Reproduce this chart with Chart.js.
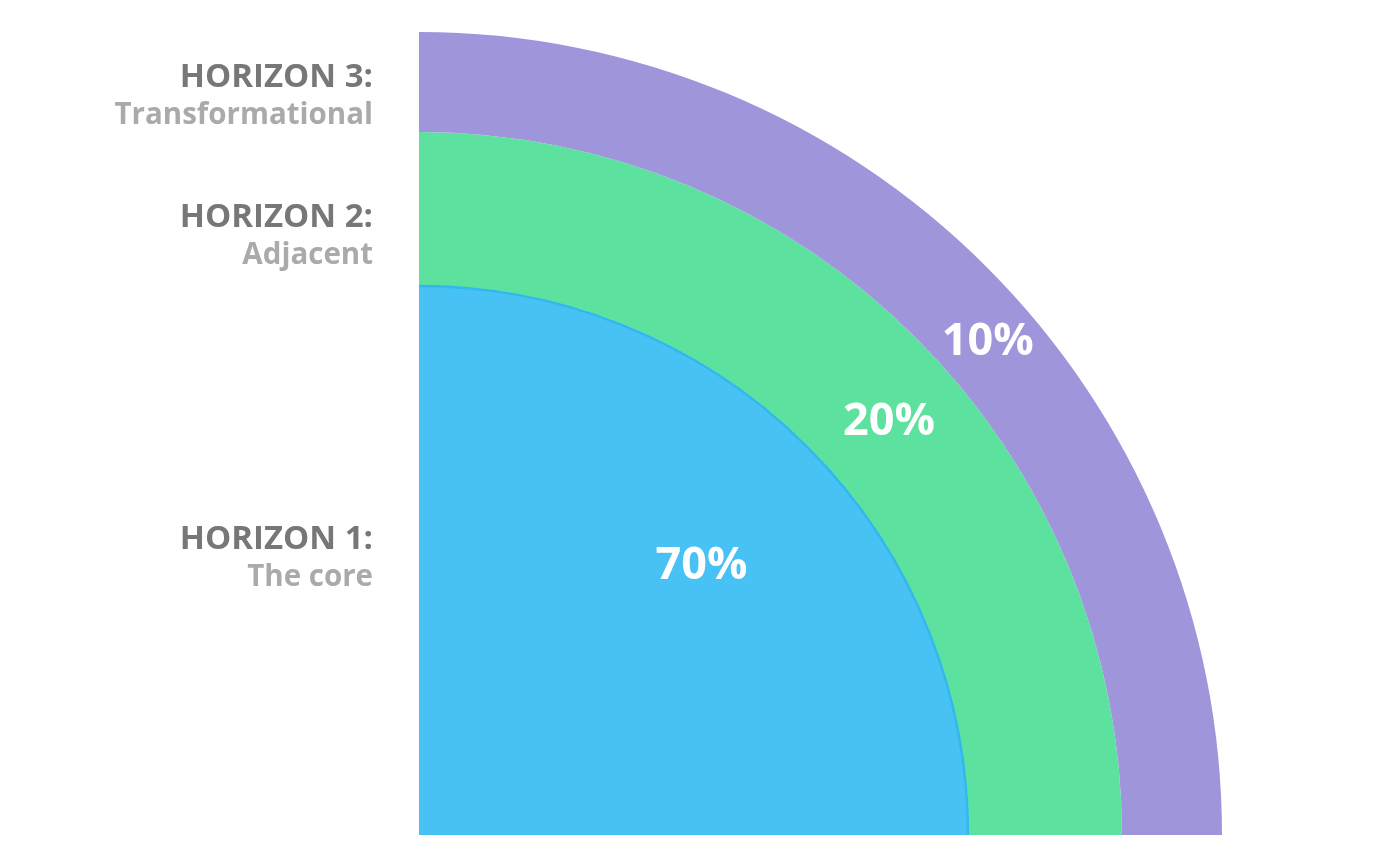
<!DOCTYPE html>
<html>
<head>
<meta charset="utf-8">
<script src="https://cdn.jsdelivr.net/npm/chart.js@4/dist/chart.umd.min.js"></script>
<style>
  html, body { margin: 0; padding: 0; background: #ffffff; }
  #wrap { width: 1400px; height: 866px; position: relative; }
</style>
</head>
<body>
<div id="wrap"><canvas id="c" width="1400" height="866"></canvas></div>
<script>
// ---- data (outermost ring first) ----
const horizons = ['HORIZON 3:', 'HORIZON 2:', 'HORIZON 1:'];
const subtitles = ['Transformational', 'Adjacent', 'The core'];
const shares = [10, 20, 70];            // percent of investment
const ringColors = ['#9e95da', '#5ce29e', '#48c2f5'];
const ringWeights = [100, 153, 550];     // relative ring thickness (style)

// label placement (style): fraction along the arc angle, fraction across ring thickness
const pctAngleFrac = [0.545, 0.54, 0.515];
const pctRadiusFrac = [0.5, 0.5, 0.71];
// left caption vertical centers (title line)
const captionY = [78, 218, 540];

const datasets = shares.map((v, i) => ({
  label: horizons[i],
  data: [v],
  backgroundColor: ringColors[i],
  borderWidth: 0,
  weight: ringWeights[i],
  hoverOffset: 0
}));

const labelPlugin = {
  id: 'horizonLabels',
  afterDatasetsDraw(chart) {
    const ctx = chart.ctx;
    ctx.save();
    // thin darker edge on the core ring
    const core = chart.getDatasetMeta(2).data[0];
    if (core) {
      const p = core.getProps(['x', 'y', 'startAngle', 'endAngle', 'outerRadius']);
      ctx.beginPath();
      ctx.arc(p.x, p.y, p.outerRadius - 1, p.startAngle, p.endAngle);
      ctx.strokeStyle = '#30b9ea';
      ctx.lineWidth = 2.5;
      ctx.stroke();
    }
    // percentage labels
    ctx.fillStyle = '#ffffff';
    ctx.font = 'bold 45px "Open Sans"';
    ctx.textAlign = 'center';
    ctx.textBaseline = 'middle';
    shares.forEach((v, i) => {
      const el = chart.getDatasetMeta(i).data[0];
      const p = el.getProps(['x', 'y', 'startAngle', 'endAngle', 'innerRadius', 'outerRadius']);
      const a = p.startAngle + (p.endAngle - p.startAngle) * pctAngleFrac[i];
      const r = p.innerRadius + (p.outerRadius - p.innerRadius) * pctRadiusFrac[i];
      ctx.fillText(v + '%', p.x + Math.cos(a) * r, p.y + Math.sin(a) * r + 1);
    });
    // left captions
    ctx.textAlign = 'right';
    const xRight = chart.chartArea.left - 46;
    horizons.forEach((h, i) => {
      ctx.fillStyle = '#777777';
      ctx.font = 'bold 33px "Open Sans"';
      ctx.fillText(h, xRight, captionY[i]);
      ctx.fillStyle = '#aaaaaa';
      ctx.font = 'bold 29.5px "Open Sans"';
      ctx.fillText(subtitles[i], xRight, captionY[i] + 38);
    });
    ctx.restore();
  }
};

new Chart(document.getElementById('c'), {
  type: 'doughnut',
  data: { labels: ['share'], datasets },
  options: {
    responsive: false,
    animation: false,
    rotation: 0,
    circumference: 90,
    cutout: 0,
    layout: { padding: { left: 419, top: 32, right: 178, bottom: 31 } },
    plugins: { legend: { display: false }, tooltip: { enabled: false } },
    events: []
  },
  plugins: [labelPlugin]
});
</script>
</body>
</html>
